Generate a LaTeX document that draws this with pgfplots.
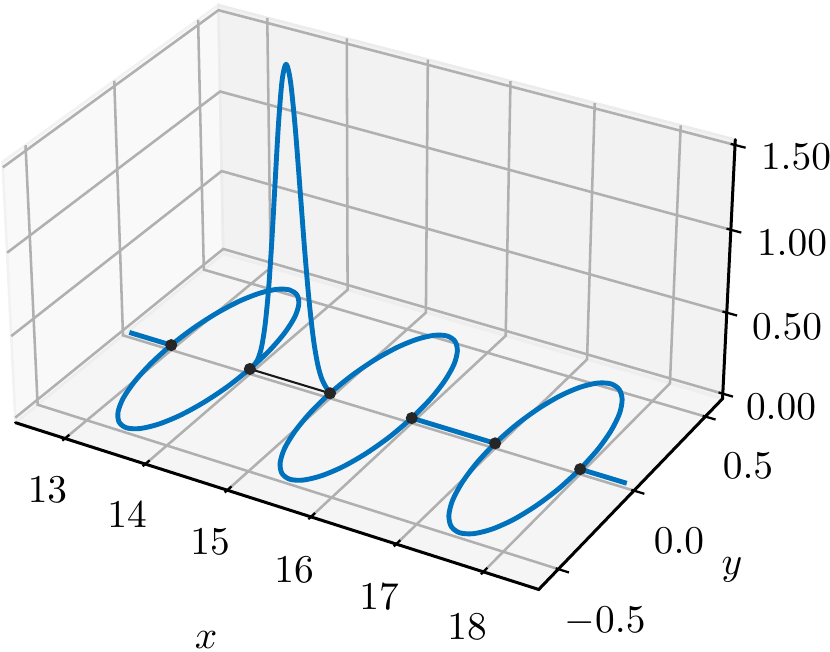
\documentclass[border=0pt]{standalone}
\usepackage{pgfplots}
\pgfplotsset{compat=1.18}

\definecolor{mblue}{HTML}{0072BD}
\definecolor{gridc}{HTML}{B0B0B0}

% data coords are (x,y,z), the perspective of the 3d view goes to canvas pixels
\pgfplotsset{
  /pgfplots/table/proj/.style={
    x expr={px(\thisrow{x},\thisrow{y},\thisrow{z})},
    y expr={py(\thisrow{x},\thisrow{y},\thisrow{z})},
  },
}
\newcommand{\seg}[2]{\addplot[#1] table[proj,row sep=\\] {x y z\\ #2};}
\tikzset{lbl/.style={overlay, inner sep=0pt, scale=1.05}}

\begin{document}
\begin{tikzpicture}
\begin{axis}[
  name=main,
  scale only axis,
  width=221.33pt, height=173.6pt,
  xmin=0, xmax=830, ymin=0, ymax=651,
  y dir=reverse,
  hide axis,
  declare function={
    qx(\x)=96*(\x-15.5);
    qy(\y)=320*\y;
    qz(\z)=192*(\z-0.75);
    dn(\x,\y,\z)=1-(0.433013*qx(\x)-0.75*qy(\y)+0.5*qz(\z))/4200;
    px(\x,\y,\z)=370.7+(0.866025*qx(\x)+0.5*qy(\y))/dn(\x,\y,\z);
    py(\x,\y,\z)=283-(-0.25*qx(\x)+0.433013*qy(\y)+0.866025*qz(\z))/dn(\x,\y,\z);
  },
  gridl/.style={gridc, line width=0.68pt},
  axl/.style={black, line width=0.8pt, line cap=round},
  tck/.style={black, line width=0.6pt},
  curve/.style={mblue, line width=1.3pt, line join=round},
]
% panes
\seg{fill=black!2.5, draw=black!5, line width=0.7pt}{12.375 -0.625 -0.03125\\ 12.375 0.625 -0.03125\\ 12.375 0.625 1.53125\\ 12.375 -0.625 1.53125\\ 12.375 -0.625 -0.03125\\}
\seg{fill=black!5, draw=black!7.5, line width=0.7pt}{12.375 0.625 -0.03125\\ 18.625 0.625 -0.03125\\ 18.625 0.625 1.53125\\ 12.375 0.625 1.53125\\ 12.375 0.625 -0.03125\\}
\seg{fill=black!3.75, draw=black!6.5, line width=0.7pt}{12.375 -0.625 -0.03125\\ 18.625 -0.625 -0.03125\\ 18.625 0.625 -0.03125\\ 12.375 0.625 -0.03125\\ 12.375 -0.625 -0.03125\\}

% grid
\pgfplotsinvokeforeach{13,14,15,16,17,18}{
  \seg{gridl}{#1 -0.625 -0.03125\\ #1 0.625 -0.03125\\ #1 0.625 1.53125\\}
}
\pgfplotsinvokeforeach{-0.5,0,0.5}{
  \seg{gridl}{18.625 #1 -0.03125\\ 12.375 #1 -0.03125\\ 12.375 #1 1.53125\\}
}
\pgfplotsinvokeforeach{0,0.5,1,1.5}{
  \seg{gridl}{12.375 -0.625 #1\\ 12.375 0.625 #1\\ 18.625 0.625 #1\\}
}

% axis lines and ticks
\seg{axl}{12.375 -0.625 -0.03125\\ 18.625 -0.625 -0.03125\\ 18.625 0.625 -0.03125\\ 18.625 0.625 1.53125\\}
\pgfplotsinvokeforeach{13,14,15,16,17,18}{
  \seg{tck}{#1 -0.64 -0.03125\\ #1 -0.60 -0.03125\\}
}
\pgfplotsinvokeforeach{-0.5,0,0.5}{
  \seg{tck}{18.595 #1 -0.03125\\ 18.745 #1 -0.03125\\}
}
\pgfplotsinvokeforeach{0,0.5,1,1.5}{
  \seg{tck}{18.575 0.625 #1\\ 18.745 0.625 #1\\}
}

% thin line under the spike, and the points
\seg{black!90, line width=0.55pt}{14 0 0\\ 15 0 0\\}
\seg{only marks, mark=*, mark size=1.4pt, mark options={fill=black!85, draw=black!85}}{13 0 0\\ 14 0 0\\ 15 0 0\\ 16 0 0\\ 17 0 0\\ 18 0 0\\}

% curve
\seg{curve}{12.46 0 0\\ 13 0 0\\}
\seg{curve, smooth}{14 0 0\\ 13.983 0.129 0\\ 13.933 0.25 0\\ 13.854 0.354 0\\ 13.75 0.433 0\\ 13.629 0.483 0\\ 13.5 0.5 0\\ 13.371 0.483 0\\ 13.25 0.433 0\\ 13.146 0.354 0\\ 13.067 0.25 0\\ 13.017 0.129 0\\ 13 0 0\\ 13.017 -0.129 0\\ 13.067 -0.25 0\\ 13.146 -0.354 0\\ 13.25 -0.433 0\\ 13.371 -0.483 0\\ 13.5 -0.5 0\\ 13.629 -0.483 0\\ 13.75 -0.433 0\\ 13.854 -0.354 0\\ 13.933 -0.25 0\\ 13.983 -0.129 0\\ 14 0 0\\}
\seg{curve, smooth}{14 0 0\\ 14.05 0 0.031\\ 14.1 0 0.073\\ 14.15 0 0.156\\ 14.2 0 0.303\\ 14.25 0 0.531\\ 14.3 0 0.84\\ 14.35 0 1.2\\ 14.4 0 1.549\\ 14.45 0 1.805\\ 14.5 0 1.9\\ 14.55 0 1.805\\ 14.6 0 1.549\\ 14.65 0 1.2\\ 14.7 0 0.84\\ 14.75 0 0.531\\ 14.8 0 0.303\\ 14.85 0 0.156\\ 14.9 0 0.073\\ 14.95 0 0.031\\ 15 0 0\\}
\seg{curve, smooth}{16 0 0\\ 15.983 0.129 0\\ 15.933 0.25 0\\ 15.854 0.354 0\\ 15.75 0.433 0\\ 15.629 0.483 0\\ 15.5 0.5 0\\ 15.371 0.483 0\\ 15.25 0.433 0\\ 15.146 0.354 0\\ 15.067 0.25 0\\ 15.017 0.129 0\\ 15 0 0\\ 15.017 -0.129 0\\ 15.067 -0.25 0\\ 15.146 -0.354 0\\ 15.25 -0.433 0\\ 15.371 -0.483 0\\ 15.5 -0.5 0\\ 15.629 -0.483 0\\ 15.75 -0.433 0\\ 15.854 -0.354 0\\ 15.933 -0.25 0\\ 15.983 -0.129 0\\ 16 0 0\\}
\seg{curve}{16 0 0\\ 17 0 0\\}
\seg{curve, smooth}{18 0 0\\ 17.983 0.129 0\\ 17.933 0.25 0\\ 17.854 0.354 0\\ 17.75 0.433 0\\ 17.629 0.483 0\\ 17.5 0.5 0\\ 17.371 0.483 0\\ 17.25 0.433 0\\ 17.146 0.354 0\\ 17.067 0.25 0\\ 17.017 0.129 0\\ 17 0 0\\ 17.017 -0.129 0\\ 17.067 -0.25 0\\ 17.146 -0.354 0\\ 17.25 -0.433 0\\ 17.371 -0.483 0\\ 17.5 -0.5 0\\ 17.629 -0.483 0\\ 17.75 -0.433 0\\ 17.854 -0.354 0\\ 17.933 -0.25 0\\ 17.983 -0.129 0\\ 18 0 0\\}
\seg{curve}{18 0 0\\ 18.54 0 0\\}

% tick labels, at their canvas pixels
\node[lbl] at (axis cs:47.5,490) {$13$};
\node[lbl] at (axis cs:127,515) {$14$};
\node[lbl] at (axis cs:210,542) {$15$};
\node[lbl] at (axis cs:294,570) {$16$};
\node[lbl] at (axis cs:379,597) {$17$};
\node[lbl] at (axis cs:467,627) {$18$};
\node[lbl] at (axis cs:605,621) {$-0.5$};
\node[lbl] at (axis cs:679,541) {$0.0$};
\node[lbl] at (axis cs:748,466) {$0.5$};
\node[lbl] at (axis cs:781,407) {$0.00$};
\node[lbl] at (axis cs:787,327) {$0.50$};
\node[lbl] at (axis cs:792,243) {$1.00$};
\node[lbl] at (axis cs:796,157) {$1.50$};
\node[lbl] at (axis cs:206,640) {$x$};
\node[lbl] at (axis cs:732,570) {$y$};
\end{axis}
\pgfresetboundingbox
\path[use as bounding box] (main.south west) rectangle (main.north east);
\end{tikzpicture}
\end{document}
